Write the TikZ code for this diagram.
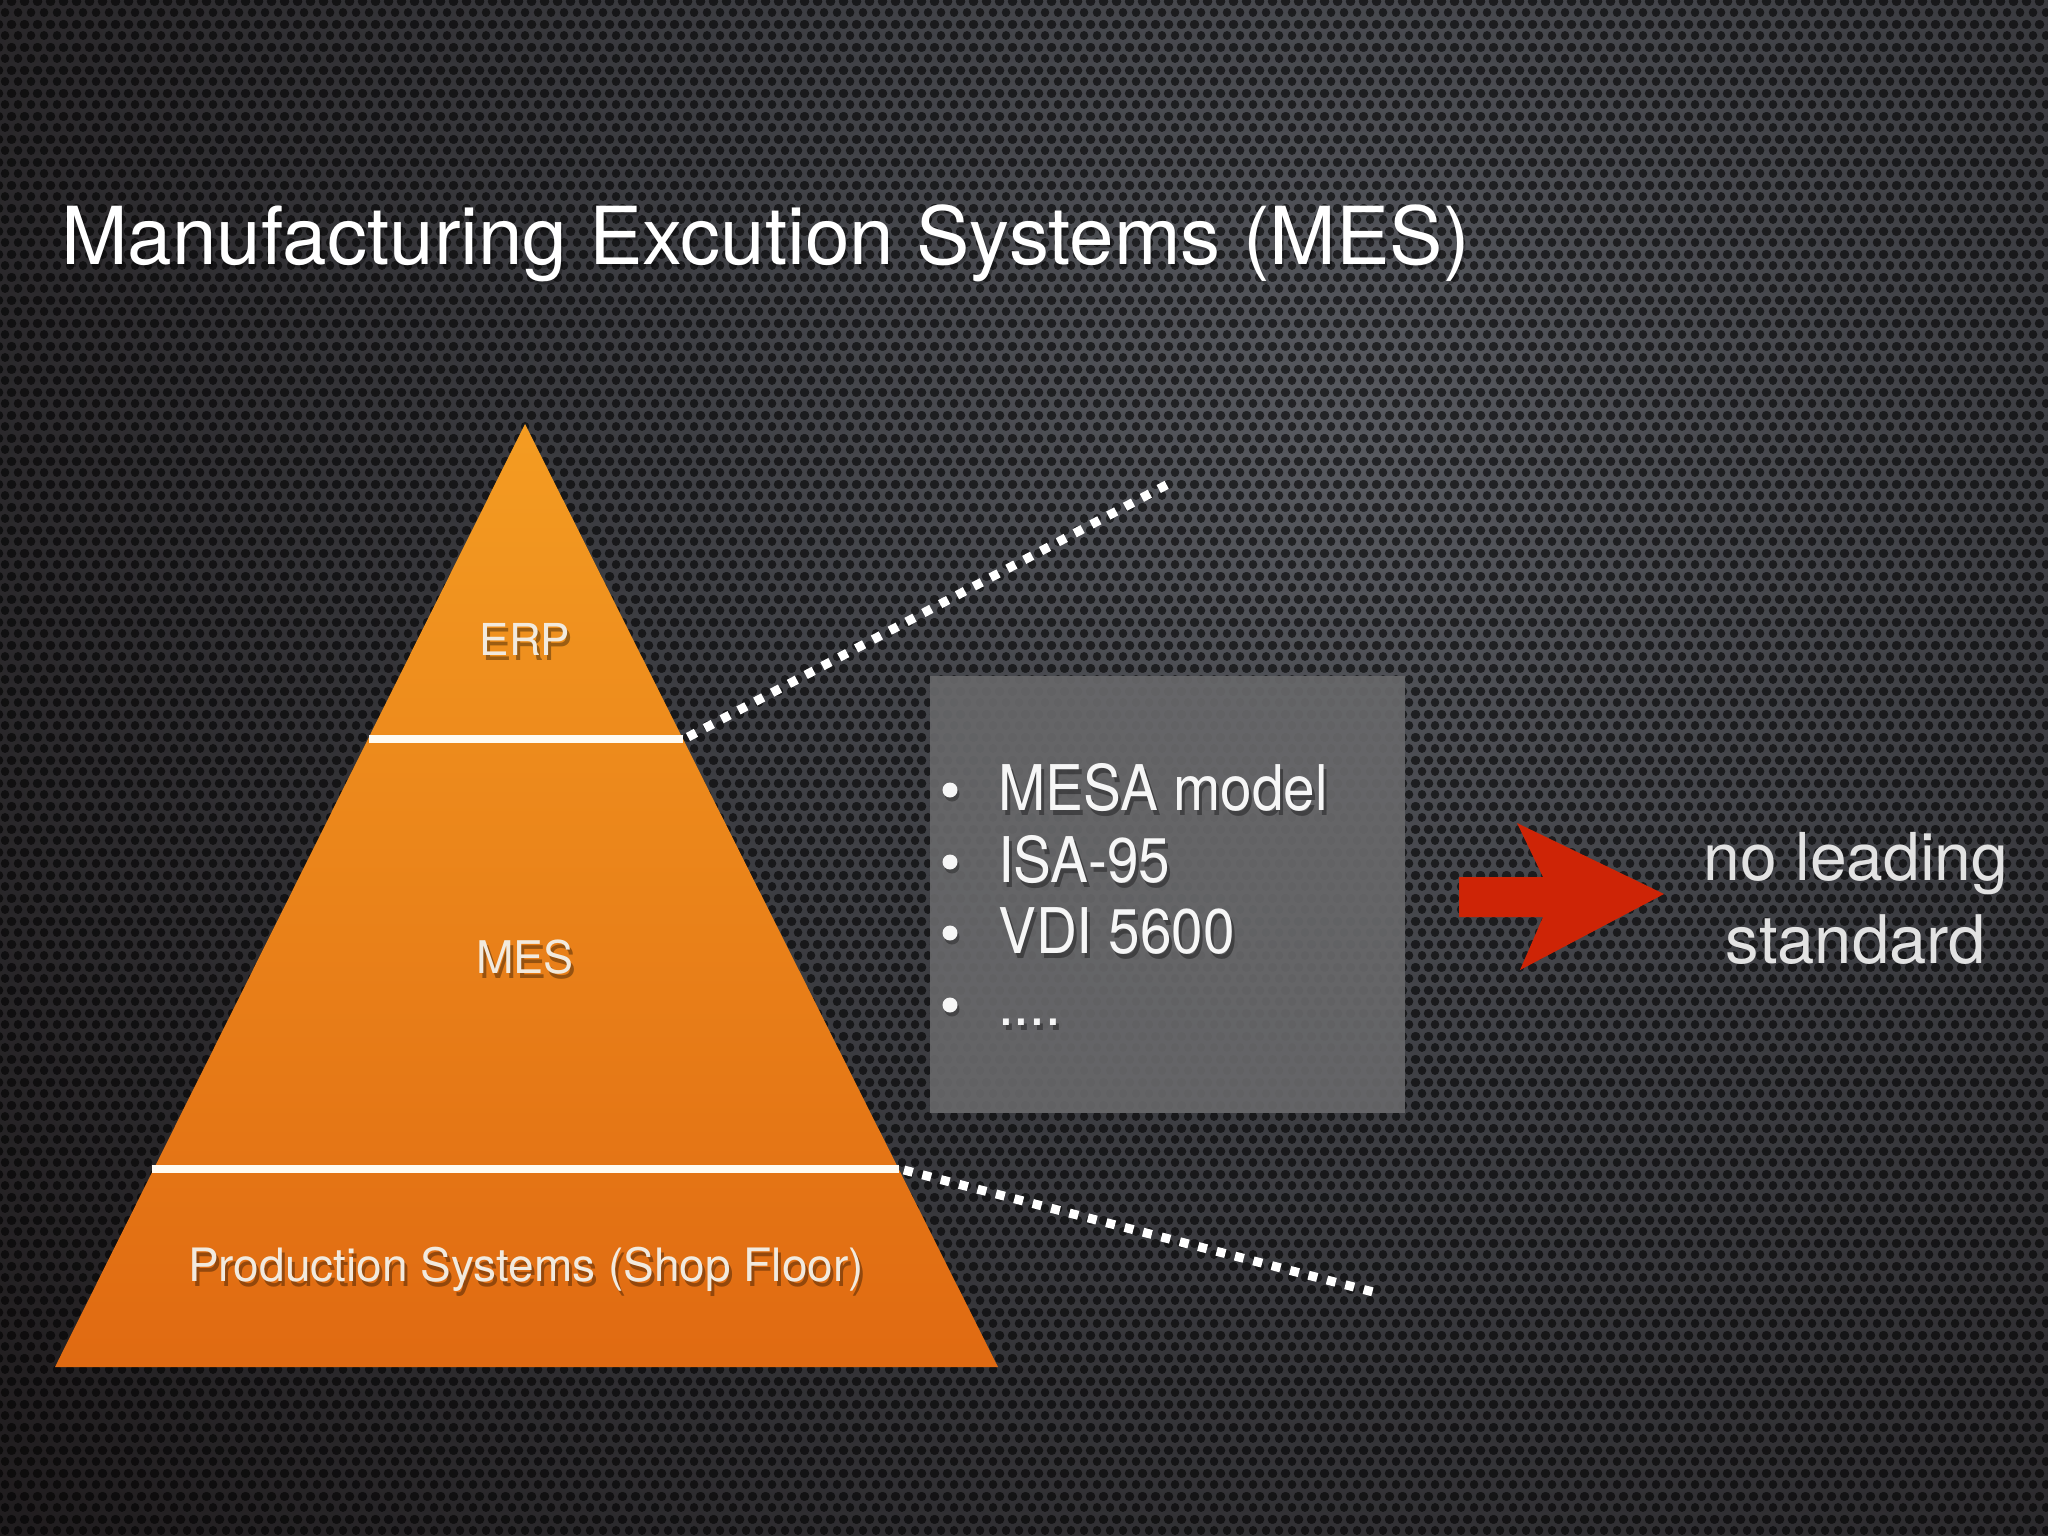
\documentclass[tikz,border=0pt]{standalone}
\usepackage{fontspec}
\setmainfont{TeX Gyre Heros}
\newfontfamily\narrowfont[FakeStretch=0.9]{TeX Gyre Heros}
\usetikzlibrary{patterns.meta}
\definecolor{bgA}{RGB}{88,90,96}
\definecolor{bgB}{RGB}{62,63,68}
\definecolor{bgC}{RGB}{34,31,33}
\definecolor{bgD}{RGB}{14,9,10}
\definecolor{orTop}{RGB}{244,156,34}
\definecolor{orBot}{RGB}{224,106,18}
\definecolor{labcol}{RGB}{242,234,222}
\definecolor{boxcol}{RGB}{104,104,106}
\definecolor{arrowred}{RGB}{206,36,6}
\definecolor{linewhite}{RGB}{255,251,242}
\definecolor{textwhite}{RGB}{246,246,246}
\pgfdeclareradialshading{bgshade}{\pgfpoint{0bp}{0bp}}{color(0bp)=(bgA); color(9bp)=(bgB); color(22bp)=(bgC); color(35bp)=(bgD); color(50bp)=(bgD)}
\tikzdeclarepattern{
  name=holes,
  type=uncolored,
  bounding box={(0pt,0pt) and (13pt,22.52pt)},
  tile size={(13pt,22.52pt)},
  code={
    \fill (6.5pt,5.63pt) circle (4.6pt);
    \fill (0pt,16.89pt) circle (4.6pt);
    \fill (13pt,16.89pt) circle (4.6pt);
  }
}
\tikzset{
  lab/.style={text=labcol, inner sep=0pt, anchor=base},
  labshadow/.style={text=black, text opacity=0.35, inner sep=0pt, anchor=base},
  divider/.style={draw=linewhite, line width=8pt},
  dotline/.style={draw=white, line width=9pt, dash pattern=on 9pt off 10pt},
  bullettext/.style={text=textwhite, inner sep=0pt, anchor=base west, font=\narrowfont\fontsize{63}{70}\selectfont},
  bulletshadow/.style={text=black, text opacity=0.35, inner sep=0pt, anchor=base west, font=\narrowfont\fontsize{63}{70}\selectfont},
  bulletdot/.style={circle, fill=textwhite, inner sep=0pt, minimum size=15pt},
  sidetext/.style={text=textwhite!92!black, inner sep=0pt, anchor=base, font=\fontsize{67}{80}\selectfont},
}
\begin{document}
\begin{tikzpicture}[x=1pt, y=-1pt]
\useasboundingbox (0,0) rectangle (2048,1536);
% background
\begin{scope}
  \clip (0,0) rectangle (2048,1536);
  \fill[bgD] (0,0) rectangle (2048,1536);
  \shade[shading=bgshade] (1350,440) circle (1850);
  \fill[pattern=holes, pattern color=black, fill opacity=0.6] (0,0) rectangle (2048,1536);
\end{scope}

% title
\node[text=black, text opacity=0.25, inner sep=0pt, anchor=base west, font=\fontsize{80}{96}\selectfont] (titles) at (63,267) {Manufacturing Excution Systems (MES)};
\node[text=white, inner sep=0pt, anchor=base west, font=\fontsize{80}{96}\selectfont] (title) at (61,264) {Manufacturing Excution Systems (MES)};

% pyramid
\coordinate (apex) at (525,424);
\coordinate (bl) at (55,1367);
\coordinate (br) at (998,1367);
\coordinate (l1L) at (369,739);
\coordinate (l1R) at (683,739);
\coordinate (l2L) at (152,1169);
\coordinate (l2R) at (899,1169);
\coordinate (d1) at (1172,482);
\coordinate (d2) at (1377,1293);
\coordinate (d1s) at (688,737);
\coordinate (d2s) at (904,1170);

\shade[top color=orTop, bottom color=orBot] (apex) -- (bl) -- (br) -- cycle;
\draw[divider] (l1L) -- (l1R);
\draw[divider] (l2L) -- (l2R);
\draw[dotline] (d1s) -- (d1);
\draw[dotline] (d2s) -- (d2);

% pyramid labels
\node[labshadow, font=\fontsize{44}{52}\selectfont] (erps) at (528,660) {ERP};
\node[lab, font=\fontsize{44}{52}\selectfont] (erp) at (525,655) {ERP};
\node[labshadow, font=\fontsize{45}{54}\selectfont] (mess) at (528,978) {MES};
\node[lab, font=\fontsize{45}{54}\selectfont] (mes) at (525,973) {MES};
\node[labshadow, font=\fontsize{46}{55}\selectfont] (prods) at (529,1286) {Production Systems (Shop Floor)};
\node[lab, font=\fontsize{46}{55}\selectfont] (prod) at (526,1281) {Production Systems (Shop Floor)};

% gray box
\fill[boxcol, fill opacity=0.92] (930,676) rectangle (1405,1113);

% bullets
\node[bulletdot, fill=black, fill opacity=0.3] (b1s) at (952,794) {};
\node[bulletdot] (b1) at (950,790) {};
\node[bulletdot, fill=black, fill opacity=0.3] (b2s) at (952,866) {};
\node[bulletdot] (b2) at (950,862) {};
\node[bulletdot, fill=black, fill opacity=0.3] (b3s) at (952,937) {};
\node[bulletdot] (b3) at (950,933) {};
\node[bulletdot, fill=black, fill opacity=0.3] (b4s) at (952,1009) {};
\node[bulletdot] (b4) at (950,1005) {};
\node[bulletshadow] (t1s) at (1001,815) {MESA model};
\node[bullettext] (t1) at (998,810) {MESA model};
\node[bulletshadow] (t2s) at (1001,887) {ISA-95};
\node[bullettext] (t2) at (998,882) {ISA-95};
\node[bulletshadow] (t3s) at (1001,958) {VDI 5600};
\node[bullettext] (t3) at (998,953) {VDI 5600};
\node[bulletshadow] (t4s) at (1001,1030) {....};
\node[bullettext] (t4) at (998,1025) {....};

% red arrow
\fill[arrowred] (1459,877) -- (1543,877) -- (1517,823) -- (1664,894) -- (1520,970) -- (1543,917) -- (1459,917) -- cycle;

% side text
\node[sidetext, font=\fontsize{66}{80}\selectfont] (nl) at (1856,880) {no leading};
\node[sidetext] (st) at (1856,963) {standard};
\end{tikzpicture}
\end{document}
